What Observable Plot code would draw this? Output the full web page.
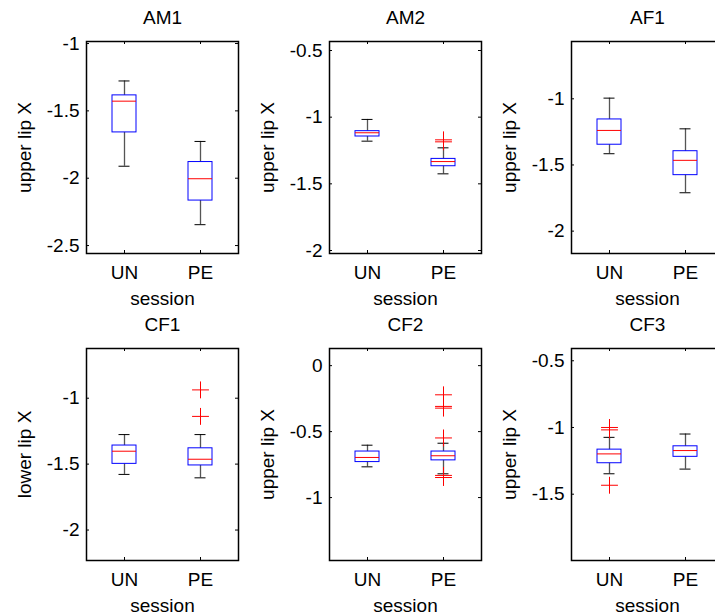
<!DOCTYPE html>
<html><head><meta charset="utf-8">
<script src="https://cdn.jsdelivr.net/npm/d3@7"></script>
<script src="https://cdn.jsdelivr.net/npm/@observablehq/plot@0.6"></script>
<style>
html,body{margin:0;padding:0;background:#fff;}
#chart{position:relative;width:715px;height:613px;overflow:hidden;background:#fff;}
#chart > svg, #chart > figure {position:absolute;margin:0;}
</style></head><body><div id="chart"></div>
<script>
const panels = ["AM1","AM2","AF1","CF1","CF2","CF3"];
const yLabels = ["upper lip X","upper lip X","upper lip X","lower lip X","upper lip X","upper lip X"];
const sessions = ["UN","PE"];
const whiskerHigh = [[-1.278,-1.727],[-1.017,-1.230],[-0.995,-1.227],[-1.276,-1.276],[-0.603,-0.588],[-1.074,-1.049]];
const q3 = [[-1.385,-1.880],[-1.105,-1.313],[-1.156,-1.396],[-1.359,-1.380],[-0.651,-0.651],[-1.166,-1.141]];
const median = [[-1.428,-2.004],[-1.117,-1.333],[-1.239,-1.465],[-1.402,-1.463],[-0.696,-0.683],[-1.198,-1.173]];
const q1 = [[-1.660,-2.166],[-1.145,-1.368],[-1.347,-1.577],[-1.498,-1.510],[-0.731,-0.718],[-1.268,-1.220]];
const whiskerLow = [[-1.911,-2.345],[-1.180,-1.425],[-1.415,-1.710],[-1.578,-1.604],[-0.767,-0.820],[-1.347,-1.312]];
const outliers = [
  [],
  [["PE",-1.170],["PE",-1.185]],
  [],
  [["PE",-0.937],["PE",-1.138]],
  [["PE",-0.221],["PE",-0.309],["PE",-0.322],["PE",-0.548],["PE",-0.832],["PE",-0.848]],
  [["UN",-1.000],["UN",-1.018],["UN",-1.433]]
];
const yDomains = [[-2.559,-0.985],[-2.0225,-0.4325],[-2.169,-0.567],[-2.231,-0.623],[-1.477,0.13],[-1.997,-0.408]];
const yTicks = [[-2.5,-2,-1.5,-1],[-2,-1.5,-1,-0.5],[-2,-1.5,-1],[-2,-1.5,-1],[-1,-0.5,0],[-1.5,-1,-0.5]];

// layout
const FW = 152, FH = 212, ML = 86, MR = 4, MT = 41, MB = 52;
const lefts = [0, 243, 485], tops = [0, 307];
const chart = document.getElementById("chart");

panels.forEach((name, i) => {
  const stats = sessions.map((s, j) => ({
    session: s, wl: whiskerLow[i][j], q1: q1[i][j], med: median[i][j], q3: q3[i][j], wh: whiskerHigh[i][j]
  }));
  const outs = outliers[i].map(([s, v]) => ({session: s, value: v}));
  const svg = Plot.plot({
    width: ML + FW + MR, height: MT + FH + MB,
    marginLeft: ML, marginRight: MR, marginTop: MT, marginBottom: MB,
    style: {fontFamily: "'Liberation Sans', Arial, sans-serif", fontSize: "19px", background: "white", overflow: "visible", color: "black"},
    x: {type: "band", domain: sessions, paddingInner: 0.684, paddingOuter: 0.342},
    y: {domain: yDomains[i]},
    marks: [
      Plot.ruleX(stats, {x: "session", y1: "wl", y2: "wh", stroke: "#555", strokeWidth: 1.3}),
      Plot.tickY(stats, {x: "session", y: "wh", stroke: "black", insetLeft: 6.5, insetRight: 6.5}),
      Plot.tickY(stats, {x: "session", y: "wl", stroke: "black", insetLeft: 6.5, insetRight: 6.5}),
      Plot.barY(stats, {x: "session", y1: "q1", y2: "q3", fill: "white", stroke: "#0000ff", strokeWidth: 1}),
      Plot.tickY(stats, {x: "session", y: "med", stroke: "#ff0000", strokeWidth: 1}),
      Plot.dot(outs, {x: "session", y: "value", symbol: "plus", stroke: "#ff0000", fill: "none", r: 5.5, strokeWidth: 1}),
      Plot.ruleY(yTicks[i], {y: d => d, insetRight: FW - 3, stroke: "black"}),
      Plot.ruleY(yTicks[i], {y: d => d, insetLeft: FW - 3, stroke: "black"}),
      Plot.ruleX(sessions, {x: d => d, insetTop: FH - 3, stroke: "black"}),
      Plot.ruleX(sessions, {x: d => d, insetBottom: FH - 3, stroke: "black"}),
      Plot.frame({stroke: "black", strokeWidth: 1.5}),
      Plot.axisY(yTicks[i], {tickSize: 0, tickPadding: 7, tickFormat: d => String(d), label: null}),
      Plot.axisX({tickSize: 0, tickPadding: 12, label: null}),
      Plot.text([name], {frameAnchor: "top", dy: -24, lineAnchor: "middle", text: d => d}),
      Plot.text(["session"], {frameAnchor: "bottom", dy: 45.5, lineAnchor: "middle", text: d => d}),
      Plot.text([yLabels[i]], {frameAnchor: "left", dx: -61.5, rotate: -90, lineAnchor: "middle", textAnchor: "middle", text: d => d})
    ]
  });
  svg.style.left = lefts[i % 3] + "px";
  svg.style.top = tops[Math.floor(i / 3)] + "px";
  chart.appendChild(svg);
});
</script>
</body></html>
